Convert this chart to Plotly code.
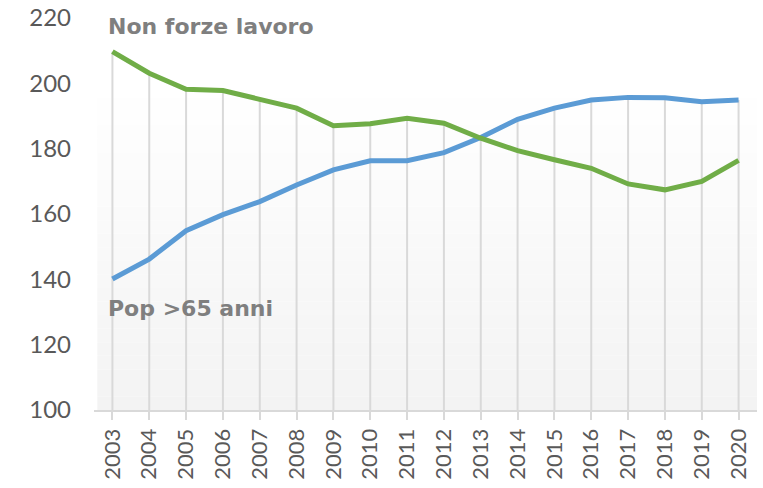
import plotly.graph_objects as go

years = [str(y) for y in range(2003, 2021)]
non_forze_lavoro = [209.7, 203.1, 198.2, 197.8, 195.1, 192.4, 187.0, 187.6, 189.3,
                    187.8, 183.2, 179.4, 176.6, 174.0, 169.2, 167.4, 170.0, 176.4]
pop_over_65 = [140.1, 146.2, 154.9, 159.8, 163.8, 168.9, 173.5, 176.3, 176.3,
               178.8, 183.4, 189.0, 192.4, 194.9, 195.7, 195.6, 194.4, 194.9]
y_ticks = [100, 120, 140, 160, 180, 200, 220]

GREEN = "#70AD47"
BLUE = "#5B9BD5"
GRAY = "#7F7F7F"

fig = go.Figure()

# drop lines from the highest series value down to the axis
dx, dy = [], []
for i, yr in enumerate(years):
    dx += [yr, yr, None]
    dy += [100, max(non_forze_lavoro[i], pop_over_65[i]), None]
fig.add_trace(go.Scatter(x=dx, y=dy, mode="lines",
                         line=dict(color="#D9D9D9", width=2),
                         hoverinfo="skip", showlegend=False))

fig.add_trace(go.Scatter(x=years, y=pop_over_65, mode="lines", name="Pop >65 anni",
                         line=dict(color=BLUE, width=5), showlegend=False))
fig.add_trace(go.Scatter(x=years, y=non_forze_lavoro, mode="lines", name="Non forze lavoro",
                         line=dict(color=GREEN, width=5), showlegend=False))

# subtle vertical gradient in plot area
n = 24
top = 0.83
for k in range(n):
    y0 = top * k / n
    y1 = top * (k + 1) / n
    t = k / (n - 1)
    c = int(round(243 + (255 - 243) * t))
    fig.add_shape(type="rect", xref="paper", yref="paper", x0=0.005, x1=1, y0=y0, y1=y1,
                  fillcolor=f"rgb({c},{c},{c})", line=dict(width=0), layer="below")

fig.add_annotation(text="<b>Non forze lavoro</b>", xref="paper", yref="paper",
                   x=0.018, y=0.978, xanchor="left", yanchor="middle", showarrow=False,
                   font=dict(family="DejaVu Sans", size=22, color=GRAY))
fig.add_annotation(text="<b>Pop >65 anni</b>", xref="paper", yref="paper",
                   x=0.018, y=0.258, xanchor="left", yanchor="middle", showarrow=False,
                   font=dict(family="DejaVu Sans", size=22, color=GRAY))

fig.update_layout(
    width=763, height=488,
    margin=dict(l=94, r=6, t=18, b=78),
    paper_bgcolor="white", plot_bgcolor="rgba(0,0,0,0)",
    font=dict(family="Lato", color="#595959", size=23),
)
fig.update_xaxes(type="category", range=[-0.5, 17.5], tickangle=-90, automargin=False,
                 showgrid=False, showline=True, linecolor="#D9D9D9", linewidth=2,
                 ticks="outside", ticklen=8, tickcolor="#D9D9D9", tickwidth=1.5,
                 tickfont=dict(family="Lato", size=22, color="#595959"))
fig.update_yaxes(range=[100, 220], tickvals=y_ticks, showgrid=False, zeroline=False,
                 showline=False, ticklabelstandoff=22, automargin=False,
                 tickfont=dict(family="Lato", size=24, color="#595959"))

fig.write_html("out.html", config={"displayModeBar": False},
               post_script="document.body.style.margin='0';document.body.style.overflow='hidden';")
